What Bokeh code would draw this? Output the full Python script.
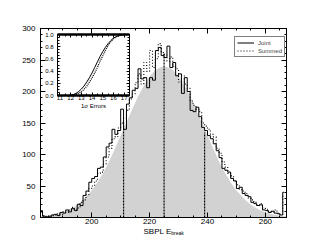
from bokeh.plotting import figure
from bokeh.models import (LinearAxis, Range1d, SingleIntervalTicker, FixedTicker,
                          Legend, LegendItem, NumeralTickFormatter,
                          CustomJSTickFormatter)
from bokeh.embed import file_html
from bokeh.resources import INLINE

# ---------------- data ----------------
bin_left = 182  # first bin edge, bins of width 1
joint = [11, 2, 1, 2, 4, 5, 3, 8, 7, 12, 9, 14, 11, 21, 19, 35, 42, 56, 62, 65,
         78, 80, 96, 112, 118, 140, 132, 138, 172, 140, 180, 190, 202, 205, 236, 220,
         222, 206, 222, 218, 265, 270, 257, 254, 272, 238, 246, 225, 228, 197, 222,
         200, 170, 168, 175, 160, 143, 138, 130, 125, 117, 106, 95, 78, 75, 72, 62,
         58, 46, 48, 38, 35, 33, 24, 22, 19, 20, 12, 11, 8, 10, 7, 6, 4, 40]
summed = [9, 3, 2, 1, 3, 4, 6, 5, 9, 8, 12, 16, 13, 15, 24, 28, 36, 46, 50, 58,
          70, 72, 85, 96, 110, 125, 128, 142, 150, 158, 170, 188, 196, 214, 228, 212,
          246, 232, 265, 238, 252, 276, 262, 258, 248, 255, 240, 236, 215, 225, 212,
          205, 185, 178, 172, 168, 150, 145, 140, 132, 128, 110, 102, 88, 80, 70, 66,
          58, 52, 44, 42, 38, 31, 28, 24, 20, 22, 15, 13, 10, 9, 12, 7, 5, 35]
centers = [bin_left + 0.5 + i for i in range(len(joint))]

curve_x = [182, 184, 186, 188, 190, 192, 194, 196, 198, 200, 202, 204, 206, 208,
           210, 212, 214, 216, 218, 220, 222, 224, 226, 228, 230, 232, 234, 236,
           238, 240, 242, 244, 246, 248, 250, 252, 254, 256, 258, 260, 262, 264,
           266, 268]
curve_y = [1.5, 2.4, 3.7, 5.6, 8.3, 12, 17, 24, 33, 43, 56, 71, 89, 109, 130, 151,
           172, 192, 209, 224, 234, 239, 239, 234, 224, 209, 192, 172, 151, 130, 109,
           89, 71, 56, 43, 33, 24, 17, 12, 8, 5.6, 3.7, 2.4, 1.5]

sigma_x = [211, 225, 239]
sigma_top = [152, 262, 135]

err_x = [11.0, 11.25, 11.5, 11.75, 12.0, 12.25, 12.5, 12.75, 13.0, 13.25, 13.5,
         13.75, 14.0, 14.25, 14.5, 14.75, 15.0, 15.25, 15.5, 15.75, 16.0, 16.25,
         16.5, 16.75, 17.0, 17.25, 17.5]
err_joint = [0, 0, 0, 0, 0.005, 0.015, 0.035, 0.065, 0.105, 0.155, 0.22, 0.29,
             0.37, 0.46, 0.55, 0.64, 0.72, 0.79, 0.85, 0.90, 0.94, 0.965, 0.98,
             0.99, 0.997, 1.0, 1.0]
err_summed = [0, 0, 0, 0, 0, 0.008, 0.018, 0.035, 0.06, 0.10, 0.15, 0.22, 0.29,
              0.37, 0.46, 0.56, 0.65, 0.74, 0.82, 0.88, 0.93, 0.96, 0.98, 0.99,
              1.0, 1.0, 1.0]

inset_xticks = [11, 12, 13, 14, 15, 16, 17]
inset_yticks = [0.0, 0.2, 0.4, 0.6, 0.8, 1.0]

# ---------------- layout constants (page px) ----------------
FONT = "Liberation Sans"
W, H = 311, 249
XR = (182.3, 267.3)
YR = (0, 300)
FL, FR, FT, FB = 40, 286, 28, 217       # main frame
IL, IR, IT, IB = 57, 129, 34, 95        # inset box
IXL, IXR = 10.77, 17.5
IYB, IYT = 0.0, 1.0
ppx = (IR - IL) / (IXR - IXL)
ppy = (IB - IT) / (IYT - IYB)
ix_range = Range1d(IXL - (IL - FL) / ppx, IXR + (FR - IR) / ppx)
iy_range = Range1d(IYB - (FB - IB) / ppy, IYT + (IT - FT) / ppy)
mpx = (FR - FL) / (XR[1] - XR[0])       # main px per x unit

p = figure(width=W, height=H, x_range=Range1d(*XR), y_range=Range1d(*YR),
           output_backend="svg", toolbar_location=None, title=None,
           min_border_left=FL, min_border_right=W - FR,
           min_border_top=FT, min_border_bottom=H - FB)
p.extra_x_ranges = {"ix": ix_range}
p.extra_y_ranges = {"iy": iy_range}
p.grid.visible = False
p.outline_line_color = "black"
p.background_fill_color = "white"
p.border_fill_color = "white"

blank = CustomJSTickFormatter(code="return ''")


def style(ax, size="8px", labels=True, tin=5, mtin=2):
    ax.axis_line_color = "black"
    ax.major_tick_in = tin
    ax.major_tick_out = 0
    ax.minor_tick_in = mtin
    ax.minor_tick_out = 0
    ax.major_tick_line_color = "black"
    ax.minor_tick_line_color = "black"
    ax.major_label_text_font = FONT
    ax.major_label_text_color = "black"
    ax.major_label_text_font_size = size
    ax.major_label_standoff = 2
    if not labels:
        ax.formatter = blank
        ax.major_label_standoff = 0


p.xaxis.ticker = SingleIntervalTicker(interval=20, num_minor_ticks=4)
p.yaxis.ticker = SingleIntervalTicker(interval=50, num_minor_ticks=5)
style(p.xaxis[0])
style(p.yaxis[0])
p.xaxis.major_label_standoff = 1
p.yaxis.major_label_standoff = 5

top = LinearAxis(ticker=SingleIntervalTicker(interval=20, num_minor_ticks=4))
style(top, labels=False)
p.add_layout(top, "above")
right = LinearAxis(ticker=SingleIntervalTicker(interval=50, num_minor_ticks=5))
style(right, labels=False)
p.add_layout(right, "right")

# smooth curve (grey fill)
p.varea(x=curve_x, y1=0, y2=curve_y, fill_color="#d2d2d2")

# histograms
r_sum = p.step(x=centers, y=summed, mode="center", line_color="black",
               line_width=1.1, line_dash="1 2")
r_joint = p.step(x=centers, y=joint, mode="center", line_color="black",
                 line_width=1)

# sigma lines
p.segment(x0=sigma_x, y0=[0] * 3, x1=sigma_x, y1=sigma_top, line_color="black",
          line_width=1.2, line_dash="2 1")

# legend
legend = Legend(items=[LegendItem(label="Joint", renderers=[r_joint]),
                       LegendItem(label="Summed", renderers=[r_sum])],
                location=(234 - FL, FB - 57),
                label_text_font=FONT, label_text_font_size="6px",
                glyph_width=17, glyph_height=7, label_height=7,
                label_standoff=4, spacing=1, padding=2, margin=0,
                border_line_color="black", border_line_width=1,
                background_fill_color="white", background_fill_alpha=1)
p.add_layout(legend)


# x axis title "SBPL E" + subscript "break": label-only axes stacked below
def title_axis(text, size, center_px, standoff):
    cx = round(XR[0] + (center_px - FL) / mpx, 2)
    ax = LinearAxis(ticker=FixedTicker(ticks=[cx], minor_ticks=[]),
                    major_label_overrides={cx: text})
    ax.axis_line_color = None
    ax.major_tick_line_color = None
    ax.minor_tick_line_color = None
    ax.major_tick_in = 0
    ax.major_tick_out = 0
    ax.minor_tick_in = 0
    ax.minor_tick_out = 0
    ax.major_label_standoff = standoff
    ax.major_label_text_font = FONT
    ax.major_label_text_font_size = size
    ax.major_label_text_color = "black"
    p.add_layout(ax, "below")


title_axis("SBPL E", "8px", 157, 0)
title_axis("break", "5px", 177, -9)

# ---------------- inset ----------------
p.quad(left=[IXL], right=[IXR], bottom=[IYB], top=[IYT], x_range_name="ix",
       y_range_name="iy", fill_color="white", line_color="black", line_width=1)
p.segment(x0=[IXL, IXL], y0=[IYB, IYT], x1=[IXR, IXR], y1=[IYB, IYT],
          x_range_name="ix", y_range_name="iy", line_color="black", line_width=2.5)
p.line(err_x, err_joint, x_range_name="ix", y_range_name="iy",
       line_color="black", line_width=1)
p.line(err_x, err_summed, x_range_name="ix", y_range_name="iy",
       line_color="black", line_width=1.2, line_dash="1 1")

ix_minor = [11.5, 12.5, 13.5, 14.5, 15.5, 16.5, 17.5]
iy_minor = [0.05, 0.1, 0.15, 0.25, 0.3, 0.35, 0.45, 0.5, 0.55, 0.65, 0.7, 0.75,
            0.85, 0.9, 0.95]

ib = LinearAxis(x_range_name="ix", y_range_name="iy", fixed_location=IYB,
                bounds=(IXL, IXR),
                ticker=FixedTicker(ticks=inset_xticks, minor_ticks=ix_minor),
                formatter=NumeralTickFormatter(format="0"),
                axis_label="1σ Errors")
style(ib, size="6px", tin=3, mtin=2)
ib.major_label_standoff = 0
ib.axis_label_standoff = 0
ib.axis_label_text_font = FONT
ib.axis_label_text_font_size = "6px"
ib.axis_label_text_font_style = "normal"
ib.axis_label_text_color = "black"
p.add_layout(ib, "below")

il = LinearAxis(x_range_name="ix", y_range_name="iy", fixed_location=IXL,
                bounds=(IYB, IYT),
                ticker=FixedTicker(ticks=inset_yticks, minor_ticks=iy_minor),
                formatter=NumeralTickFormatter(format="0.0"))
style(il, size="6px", tin=3, mtin=2)
il.major_label_standoff = 4
p.add_layout(il, "left")

it = LinearAxis(x_range_name="ix", y_range_name="iy", fixed_location=IYT,
                bounds=(IXL, IXR),
                ticker=FixedTicker(ticks=inset_xticks, minor_ticks=ix_minor))
style(it, labels=False, tin=3, mtin=2)
p.add_layout(it, "above")

ir = LinearAxis(x_range_name="ix", y_range_name="iy", fixed_location=IXR,
                bounds=(IYB, IYT),
                ticker=FixedTicker(ticks=inset_yticks, minor_ticks=iy_minor))
style(ir, labels=False, tin=3, mtin=2)
p.add_layout(ir, "right")

open("out.html", "w").write(file_html(p, INLINE))
